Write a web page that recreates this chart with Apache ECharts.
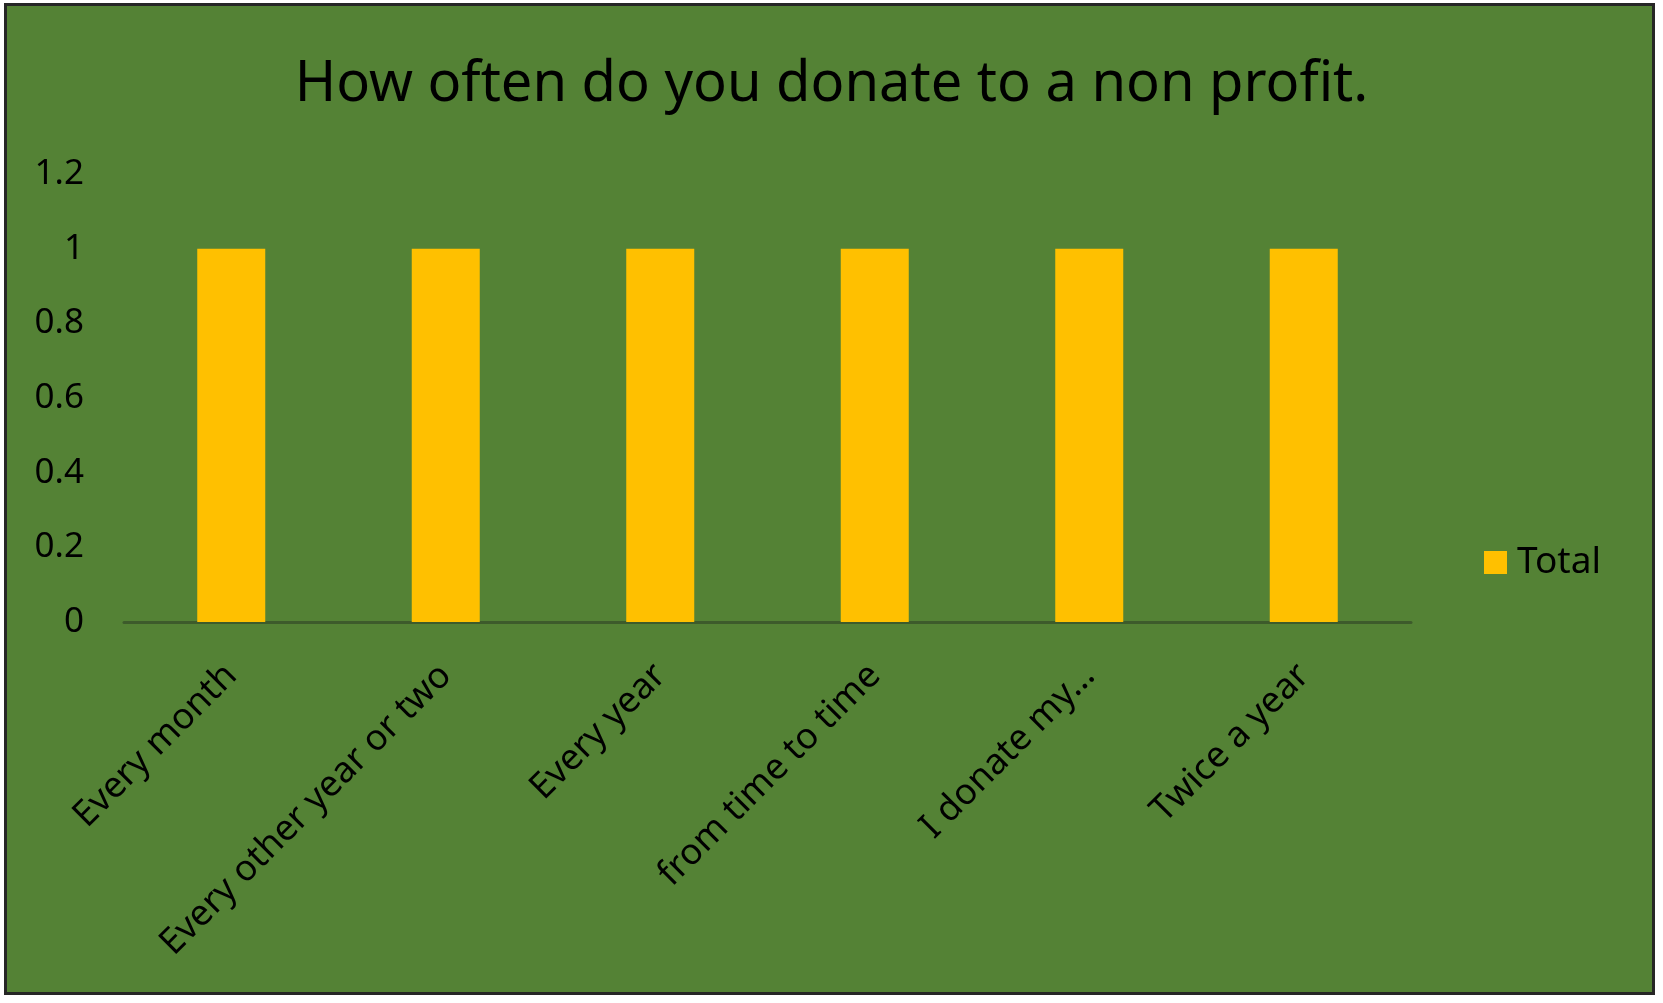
<!DOCTYPE html>
<html>
<head>
<meta charset="utf-8">
<script src="https://cdn.jsdelivr.net/npm/echarts@6/dist/echarts.min.js"></script>
<style>
html,body{margin:0;padding:0;background:#ffffff;width:1663px;height:1003px;overflow:hidden;}
#frame{position:absolute;left:4px;top:3px;width:1651px;height:992px;border:3px solid #262626;box-sizing:border-box;background:#548235;}
#chart{position:absolute;left:0;top:0;width:1663px;height:1003px;}
</style>
</head>
<body>
<div id="frame"></div>
<div id="chart"></div>
<script>
const titleText = "How often do you donate to a non profit.";
const categories = ["Every month", "Every other year or two", "Every year", "from time to time", "I donate my\u2026", "Twice a year"];
const seriesName = "Total";
const totals = [1, 1, 1, 1, 1, 1];
const yMin = 0, yMax = 1.2, yStep = 0.2;

const FONT = "'Noto Sans', sans-serif";
const chart = echarts.init(document.getElementById('chart'), null, {renderer: 'canvas'});
chart.setOption({
  backgroundColor: 'transparent',
  animation: false,
  title: {
    text: titleText,
    left: 'center',
    top: 52,
    textStyle: {fontFamily: FONT, fontSize: 56, fontWeight: 'normal', color: '#000000'}
  },
  legend: {
    data: [seriesName],
    orient: 'vertical',
    left: 1479,
    top: 539,
    icon: 'rect',
    itemWidth: 23,
    itemHeight: 23,
    itemGap: 10,
    textStyle: {fontFamily: FONT, fontSize: 37, color: '#000000', padding: [0,0,0,5]}
  },
  grid: {left: 124, top: 174, width: 1287, height: 448, containLabel: false},
  xAxis: {
    type: 'category',
    data: categories,
    axisTick: {show: false},
    axisLine: {show: true, lineStyle: {color: '#3d5b2b', width: 3}},
    axisLabel: {rotate: 45, margin: 48, interval: 0, fontFamily: FONT, fontSize: 36, color: '#000000'},
    splitLine: {show: false}
  },
  yAxis: {
    type: 'value',
    min: yMin, max: yMax, interval: yStep,
    axisLine: {show: false},
    axisTick: {show: false},
    splitLine: {show: false},
    axisLabel: {margin: 40, fontFamily: FONT, fontSize: 35, color: '#000000',
      formatter: v => String(Math.round(v * 10) / 10)}
  },
  series: [{
    name: seriesName,
    type: 'bar',
    data: totals,
    barWidth: 68,
    itemStyle: {color: '#FFC000'}
  }]
});
</script>
</body>
</html>
